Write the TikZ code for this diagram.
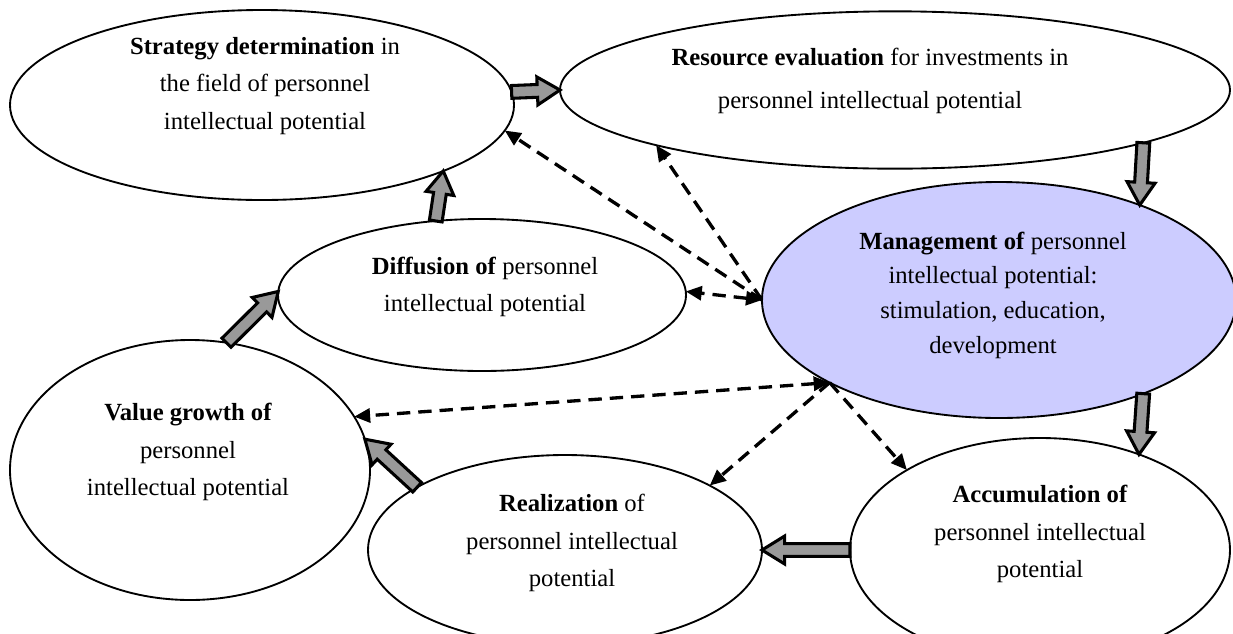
\documentclass[tikz,border=0pt]{standalone}
\usepackage{fontspec}
\setmainfont{Liberation Serif}
\usetikzlibrary{shapes.geometric,arrows.meta,calc}
\definecolor{mgmtblue}{RGB}{204,204,255}
\definecolor{shaftgray}{RGB}{153,153,153}

\begin{document}
\begin{tikzpicture}[x=0.75pt, y=-0.75pt,
  oval/.style 2 args={ellipse, draw, line width=1.4pt, inner sep=0pt, outer sep=0pt,
    minimum width=#1, minimum height=#2},
  lbl/.style={align=center, font=\fontsize{18.5}{28}\selectfont},
  link/.style={line width=2.5pt, dash pattern=on 10pt off 6pt,
    -{Triangle[length=12pt,width=10.5pt]}},
  twolink/.style={link, {Triangle[length=12pt,width=10.5pt]}-{Triangle[length=12pt,width=10.5pt]}},
  fatarrow/.style={draw, line width=2.3pt, fill=shaftgray, line join=miter,
    to path={($(\tikztostart)!4.8pt!-90:(\tikztotarget)$)
      -- ($(\tikztotarget)!17pt!(\tikztostart)!4.8pt!90:(\tikztostart)$)
      -- ($(\tikztotarget)!17pt!(\tikztostart)!10.5pt!90:(\tikztostart)$)
      -- (\tikztotarget)
      -- ($(\tikztotarget)!17pt!(\tikztostart)!10.5pt!-90:(\tikztostart)$)
      -- ($(\tikztotarget)!17pt!(\tikztostart)!4.8pt!-90:(\tikztostart)$)
      -- ($(\tikztostart)!4.8pt!90:(\tikztotarget)$) -- cycle}}
]
\useasboundingbox (0,0) rectangle (1233,633);
\clip (0,0) rectangle (1233,633);

% Ovals
\node[oval={378pt}{142.5pt}] (strategy) at (262,105) {};
\node[oval={502.5pt}{118pt}] (resource) at (895,90) {};
\node[oval={355.5pt}{177pt}, fill=mgmtblue] (management) at (999,300) {};
\node[oval={306pt}{114pt}] (diffusion) at (482,295) {};
\node[oval={270pt}{195pt}] (value) at (190,470) {};
\node[oval={295.5pt}{142.5pt}] (realization) at (565,550) {};
\node[oval={285pt}{168pt}] (accumulation) at (1040,550) {};

% Texts
\node[lbl] (strategy-t) at (265,86) {\textbf{Strategy determination} in\\ the field of personnel\\ intellectual potential};
\node[lbl, font=\fontsize{18.5}{32}\selectfont] (resource-t) at (870,81) {\textbf{Resource evaluation} for investments in\\ personnel intellectual potential};
\node[lbl, font=\fontsize{18.5}{26}\selectfont] (management-t) at (993,295) {\textbf{Management of} personnel\\ intellectual potential:\\ stimulation, education,\\ development};
\node[lbl] (diffusion-t) at (485,287) {\textbf{Diffusion of} personnel\\ intellectual potential};
\node[lbl] (value-t) at (188,452) {\textbf{Value growth of}\\ personnel\\ intellectual potential};
\node[lbl] (realization-t) at (572,543) {\textbf{Realization} of\\ personnel intellectual\\ potential};
\node[lbl] (accumulation-t) at (1040,534) {\textbf{Accumulation of}\\ personnel intellectual\\ potential};

% Cycle arrows
\draw[fatarrow] (strategy.3) to (resource.180);
\draw[fatarrow] (resource.-12) to (management.34);
\draw[fatarrow] (management.-33) to (accumulation.44);
\draw[fatarrow] (accumulation.180) to (realization.0);
\draw[fatarrow] (realization.157) to (value.10);
\draw[fatarrow] (value.74) to (diffusion.179);
\draw[fatarrow] (diffusion.122) to (strategy.-20);

% Dashed links
\draw[link] (management.180) -- (strategy.-6);
\draw[link] (management.180) -- (resource.-167);
\draw[twolink] (management.180) -- (diffusion.1);
\draw[twolink] (management.-154) -- (value.18);
\draw[link] (management.-154) -- (realization.24);
\draw[link] (management.-154) -- (accumulation.149);
\end{tikzpicture}
\end{document}
